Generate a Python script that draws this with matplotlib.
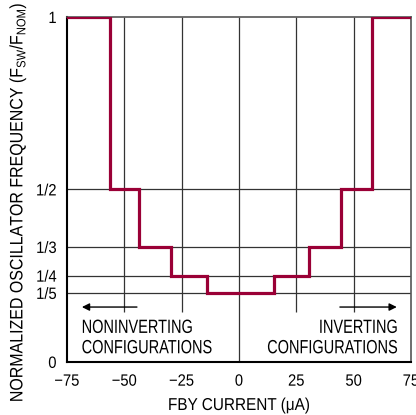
import matplotlib
matplotlib.use("Agg")
import matplotlib.pyplot as plt
from matplotlib.patheffects import AbstractPathEffect
from matplotlib.transforms import Affine2D

# step edges (uA) and normalized frequency on each segment
edges = [-75, -56.3, -43.6, -29.8, -14.1, 15.4, 30.4, 44.5, 57.9, 75]
freq = [1, 1/2, 1/3, 1/4, 1/5, 1/4, 1/3, 1/2, 1]

xticks = [-75, -50, -25, 0, 25, 50, 75]
xticklabels = ["\u221275", "\u221250", "\u221225", "0", "25", "50", "75"]
yticks = [0, 1/5, 1/4, 1/3, 1/2, 1]
yticklabels = ["0", "1/5", "1/4", "1/3", "1/2", "1"]


class Narrow(AbstractPathEffect):
    """squeeze glyphs horizontally to mimic a condensed face"""
    def __init__(self, sx=0.85, anchor="center", sy=1.0):
        super().__init__()
        self.sx = sx
        self.sy = sy
        self.anchor = anchor

    def draw_path(self, renderer, gc, tpath, affine, rgbFace=None):
        xs = tpath.vertices[:, 0]
        if len(xs) == 0 or self.anchor == "left":
            x0 = 0
        elif self.anchor == "right":
            x0 = xs.max()
        else:
            x0 = (xs.min() + xs.max()) / 2
        t = Affine2D().translate(-x0, 0).scale(self.sx, self.sy).translate(x0, 0) + affine
        renderer.draw_path(gc, tpath, t, rgbFace)


plt.rcParams["font.family"] = ["Liberation Sans", "DejaVu Sans"]
plt.rcParams["mathtext.fontset"] = "custom"
plt.rcParams["mathtext.rm"] = "Liberation Sans"

red = "#9a0036"
grid = "#333333"

fig = plt.figure(figsize=(4.16, 4.15), dpi=100)
ax = fig.add_axes([0.161, 0.128, 0.827, 0.831])

# grid
for y in yticks[1:-1]:
    ax.axhline(y, color=grid, lw=0.9, zorder=1)
for x in [-50, -25, 25, 50]:
    ax.vlines(x, 0.145, 1, color=grid, lw=0.9, zorder=1)
ax.vlines(0, 0, 1, color=grid, lw=0.9, zorder=1)

ax.step(edges, freq + [freq[-1]], where="post", color=red, lw=2.3, zorder=3,
        solid_joinstyle="miter")

# arrows and notes
ax.annotate("", xy=(-68.5, 0.159), xytext=(-44.5, 0.159),
            arrowprops=dict(arrowstyle="-|>", color="black", lw=1.0,
                            mutation_scale=11, shrinkA=0, shrinkB=0))
ax.annotate("", xy=(68.8, 0.159), xytext=(44, 0.159),
            arrowprops=dict(arrowstyle="-|>", color="black", lw=1.0,
                            mutation_scale=11, shrinkA=0, shrinkB=0))
note_fx = [Narrow(0.91, "left", sy=1.2)]
ax.text(-68.6, 0.084, "NONINVERTING", ha="left", va="baseline", fontsize=11.5,
        path_effects=note_fx)
ax.text(-68.6, 0.025, "CONFIGURATIONS", ha="left", va="baseline", fontsize=11.5,
        path_effects=note_fx)
note_fx_r = [Narrow(0.91, "right", sy=1.2)]
ax.text(69.2, 0.084, "INVERTING", ha="right", va="baseline", fontsize=11.5,
        path_effects=note_fx_r)
ax.text(69.2, 0.025, "CONFIGURATIONS", ha="right", va="baseline", fontsize=11.5,
        path_effects=note_fx_r)

ax.set_xlim(-75, 75)
ax.set_ylim(0, 1)
ax.set_xticks(xticks)
ax.set_xticklabels(xticklabels)
ax.set_yticks(yticks)
ax.set_yticklabels(yticklabels)
ax.tick_params(length=0, labelsize=11.8)
ax.tick_params(axis="x", pad=8.5)
ax.tick_params(axis="y", pad=7.5)
for lab in ax.get_xticklabels():
    lab.set_path_effects([Narrow(0.9, "center")])
for lab in ax.get_yticklabels():
    lab.set_path_effects([Narrow(0.9, "right")])
for s in ax.spines.values():
    s.set_linewidth(1.5)
    s.set_color("black")
ax.spines["top"].set_color("#555555")
ax.spines["right"].set_color("#555555")
ax.spines["top"].set_linewidth(1.2)
ax.spines["right"].set_linewidth(1.2)

fig.text(239 / 416, 1 - 410 / 415, "FBY CURRENT (\u03bcA)", ha="center", va="baseline",
         fontsize=12.4, path_effects=[Narrow(0.89, "center")])
fig.text(18 / 416, 1 - 202 / 415,
         "NORMALIZED OSCILLATOR FREQUENCY (F$_{\\mathregular{SW}}$/F$_{\\mathregular{NOM}}$)",
         ha="center", va="center", rotation=90, fontsize=11.6,
         path_effects=[Narrow(0.99, "center", sy=1.12)])

fig.savefig("out.png", dpi=100)
